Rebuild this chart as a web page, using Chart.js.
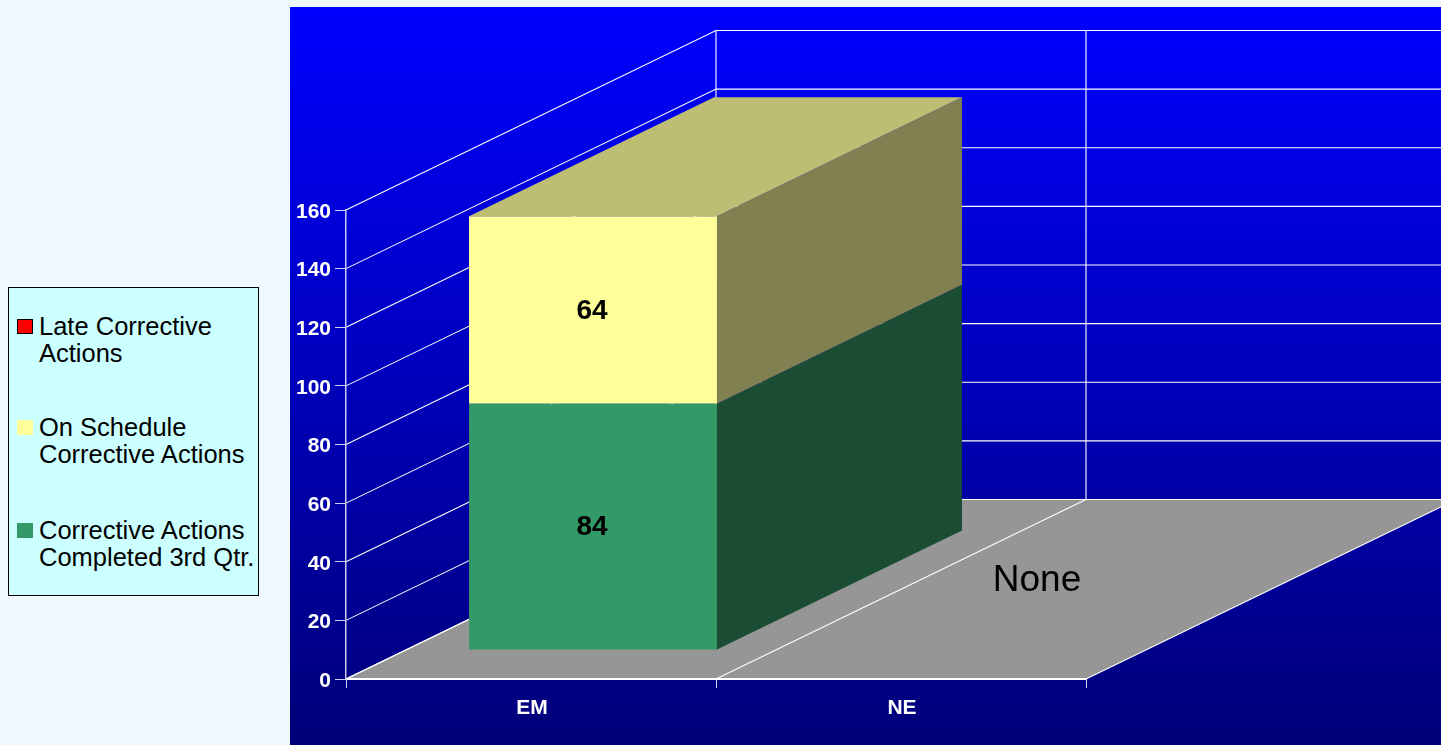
<!DOCTYPE html>
<html>
<head>
<meta charset="utf-8">
<script src="https://cdn.jsdelivr.net/npm/chart.js@4"></script>
<style>
html,body{margin:0;padding:0;background:#F0F8FF;overflow:hidden}
#wrap{position:relative;width:1441px;height:745px}
canvas{position:absolute;left:0;top:0}
#legend{position:absolute;left:8px;top:287px;width:249px;height:307px;background:#CCFFFF;border:1px solid #000;font-family:"Liberation Sans",Arial,sans-serif;font-size:25.5px;line-height:27.3px;color:#000}
.item{position:absolute;left:30px;white-space:pre}
.sw{position:absolute;left:8px;width:16px;height:15px;box-sizing:border-box}
</style>
</head>
<body>
<div id="wrap">
<canvas id="c" width="1441" height="745"></canvas>
<div id="legend"></div>
</div>
<script>
const categories = ["EM", "NE"];
const completed = [84, null];
const onSchedule = [64, null];
const late = [0, null];
const seriesNames = [
  ["Late Corrective", "Actions"],
  ["On Schedule", "Corrective Actions"],
  ["Corrective Actions", "Completed 3rd Qtr."]
];
const seriesColors = ["#FF0000", "#FFFF99", "#339966"];
const sideColors = ["#800000", "#808050", "#1A4D33"];
const topColors = ["#BF0000", "#BDBD73", "#267350"];
const emptyCategoryText = "None";

const FONT = '"Liberation Sans", Arial, sans-serif';
const WALL_DX = 370, WALL_DY = 179.5;      // depth of the floor
const BAR_FRONT_DX = 62, BAR_FRONT_DY = 29; // bar front face offset into the depth
const BAR_DX = 245, BAR_DY = 119;           // bar depth

const scene = {
  id: "scene",
  beforeDraw(chart) {
    const { ctx, width, height } = chart;
    ctx.save();
    const g = ctx.createLinearGradient(0, 7, 0, 745);
    g.addColorStop(0, "#0000FF");
    g.addColorStop(1, "#000078");
    ctx.fillStyle = g;
    ctx.fillRect(290, 7, width - 290, height - 7);

    const xs = chart.scales.x, ys = chart.scales.y;
    const half = (xs.getPixelForValue(1) - xs.getPixelForValue(0)) / 2;
    const edges = [0, 1, 2].map(i => xs.getPixelForValue(0) + (i - 0.5) * 2 * half);
    const y0 = ys.getPixelForValue(0), yTop = ys.getPixelForValue(160);

    // floor
    ctx.fillStyle = "#969696";
    ctx.beginPath();
    ctx.moveTo(edges[0], y0);
    ctx.lineTo(edges[0] + WALL_DX, y0 - WALL_DY);
    ctx.lineTo(edges[2] + WALL_DX, y0 - WALL_DY);
    ctx.lineTo(edges[2], y0);
    ctx.closePath();
    ctx.fill();

    // walls: gridlines on the left wall and back wall
    ctx.strokeStyle = "#FFFFFF";
    ctx.lineWidth = 1.1;
    ys.ticks.forEach(t => {
      const y = ys.getPixelForValue(t.value);
      ctx.beginPath();
      ctx.moveTo(edges[0], y);
      ctx.lineTo(edges[0] + WALL_DX, y - WALL_DY);
      ctx.lineTo(edges[2] + WALL_DX, y - WALL_DY);
      ctx.stroke();
    });
    // verticals on back wall and depth lines on floor
    edges.forEach(x => {
      ctx.beginPath();
      ctx.moveTo(x + WALL_DX, yTop - WALL_DY);
      ctx.lineTo(x + WALL_DX, y0 - WALL_DY);
      ctx.stroke();
      ctx.beginPath();
      ctx.moveTo(x, y0);
      ctx.lineTo(x + WALL_DX, y0 - WALL_DY);
      ctx.stroke();
    });
    ctx.restore();
  },
  beforeDatasetsDraw(chart) {
    const { ctx } = chart;
    ctx.save();
    ctx.translate(BAR_FRONT_DX, -BAR_FRONT_DY);
  },
  afterDatasetsDraw(chart) {
    const { ctx } = chart;
    ctx.restore();
    ctx.save();
    const ds = chart.data.datasets;
    // side faces, drawn from the bars themselves
    ds.forEach((d, di) => {
      chart.getDatasetMeta(di).data.forEach((bar, i) => {
        const v = d.data[i];
        if (!v) return;
        const p = bar.getProps(["x", "y", "base", "width"], true);
        const r = p.x + p.width / 2 + BAR_FRONT_DX;
        const t = p.y - BAR_FRONT_DY;
        const b = p.base - BAR_FRONT_DY;
        ctx.fillStyle = d.sideColor;
        ctx.beginPath();
        ctx.moveTo(r, t);
        ctx.lineTo(r + BAR_DX, t - BAR_DY);
        ctx.lineTo(r + BAR_DX, b - BAR_DY);
        ctx.lineTo(r, b);
        ctx.closePath();
        ctx.fill();
      });
    });
    // top face of the stack
    categories.forEach((c, i) => {
      let top = null;
      ds.forEach((d, di) => {
        if (d.data[i]) top = { d, bar: chart.getDatasetMeta(di).data[i] };
      });
      if (!top) return;
      const p = top.bar.getProps(["x", "y", "width"], true);
      const l = p.x - p.width / 2 + BAR_FRONT_DX;
      const r = p.x + p.width / 2 + BAR_FRONT_DX;
      const t = p.y - BAR_FRONT_DY;
      ctx.fillStyle = top.d.topColor;
      ctx.beginPath();
      ctx.moveTo(l, t);
      ctx.lineTo(r, t);
      ctx.lineTo(r + BAR_DX, t - BAR_DY);
      ctx.lineTo(l + BAR_DX, t - BAR_DY);
      ctx.closePath();
      ctx.fill();
    });
    // value labels
    ctx.fillStyle = "#000";
    ctx.font = "bold 28px " + FONT;
    ctx.textAlign = "center";
    ctx.textBaseline = "middle";
    ds.forEach((d, di) => {
      chart.getDatasetMeta(di).data.forEach((bar, i) => {
        const v = d.data[i];
        if (!v) return;
        const p = bar.getProps(["x", "y", "base"], true);
        ctx.fillText(String(v), p.x + BAR_FRONT_DX - 1, (p.y + p.base) / 2 - BAR_FRONT_DY + 1);
      });
    });
    // text for the empty category, lying on the floor
    ctx.font = "37px " + FONT;
    categories.forEach((c, i) => {
      if (completed[i] === null && onSchedule[i] === null && late[i] === null) {
        const xs = chart.scales.x, ys = chart.scales.y;
        ctx.fillText(emptyCategoryText, xs.getPixelForValue(i) + 136, ys.getPixelForValue(0) - 98);
      }
    });
    ctx.restore();
  }
};

new Chart(document.getElementById("c"), {
  type: "bar",
  data: {
    labels: categories,
    datasets: [
      { label: seriesNames[2].join(" "), data: completed, backgroundColor: seriesColors[2], sideColor: sideColors[2], topColor: topColors[2] },
      { label: seriesNames[1].join(" "), data: onSchedule, backgroundColor: seriesColors[1], sideColor: sideColors[1], topColor: topColors[1] },
      { label: seriesNames[0].join(" "), data: late, backgroundColor: seriesColors[0], sideColor: sideColors[0], topColor: topColors[0] }
    ]
  },
  options: {
    responsive: false,
    animation: false,
    devicePixelRatio: 1,
    layout: { padding: { left: 286, right: 355, top: 210, bottom: 0 } },
    datasets: { bar: { barPercentage: 0.67, categoryPercentage: 1, borderWidth: 0, clip: false } },
    plugins: { legend: { display: false }, tooltip: { enabled: false } },
    scales: {
      x: {
        stacked: true,
        afterFit(s) { s.height = 66; },
        grid: { drawOnChartArea: false, color: "#D0D0F0", tickLength: 9, lineWidth: 1 },
        border: { color: "#FFFFFF", width: 2 },
        ticks: { color: "#FFFFFF", font: { family: FONT, size: 21, weight: "bold" }, padding: 8, maxRotation: 0, labelOffset: 1 }
      },
      y: {
        stacked: true,
        min: 0,
        max: 160,
        afterFit(s) { s.width = 60; },
        grid: { drawOnChartArea: false, color: "#D0D0F0", tickLength: 11, lineWidth: 1 },
        border: { color: "#C8C8F0", width: 1.5 },
        ticks: { stepSize: 20, color: "#FFFFFF", font: { family: FONT, size: 21, weight: "bold" }, padding: 4, labelOffset: 2 }
      }
    }
  },
  plugins: [scene]
});

// legend
const legendEl = document.getElementById("legend");
const legendTops = [25, 126, 229];
seriesNames.forEach((lines, i) => {
  const t = document.createElement("div");
  t.className = "item";
  t.style.top = legendTops[i] + "px";
  t.textContent = lines.join("\n");
  legendEl.appendChild(t);
  const s = document.createElement("div");
  s.className = "sw";
  s.style.top = (legendTops[i] + 6) + "px";
  s.style.background = seriesColors[i];
  if (i === 0) s.style.border = "1px solid #000";
  legendEl.appendChild(s);
});
</script>
</body>
</html>
